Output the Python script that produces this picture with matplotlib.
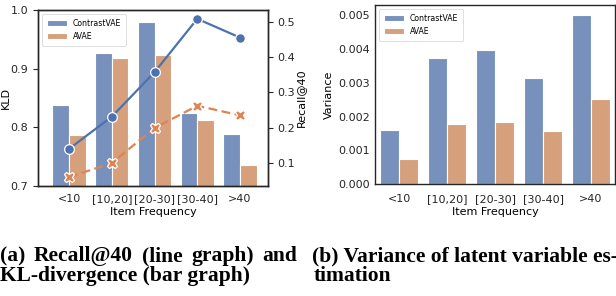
import numpy as np
import matplotlib
matplotlib.use("Agg")
import matplotlib.pyplot as plt

# Data
groups = ["<10", "[10,20]", "[20-30]", "[30-40]", ">40"]
kld_contrast = [0.838, 0.927, 0.980, 0.824, 0.789]
kld_avae = [0.787, 0.919, 0.924, 0.813, 0.736]
recall_contrast = [0.140, 0.231, 0.357, 0.508, 0.455]
recall_avae = [0.060, 0.100, 0.199, 0.262, 0.235]
var_contrast = [0.00160, 0.00372, 0.00398, 0.00314, 0.00500]
var_avae = [0.00075, 0.00178, 0.00185, 0.00157, 0.00253]

# Colours (seaborn "deep", bars muted)
bar_blue = "#7890BC"
bar_orange = "#D6A07D"
line_blue = "#4C72B0"
line_orange = "#DD8452"
spine_col = "#262626"

plt.rcParams["font.family"] = "DejaVu Sans"
plt.rcParams["font.size"] = 8

fig = plt.figure(figsize=(6.16, 2.96), dpi=100)
x = np.arange(len(groups))
w = 0.39


def style_axes(ax, ticks=True):
    for s in ax.spines.values():
        s.set_color(spine_col)
        s.set_linewidth(1.0)
    ax.tick_params(colors=spine_col, labelsize=8, length=3.5 if ticks else 0, width=0.8)


# (a) KLD bars + Recall lines
ax1 = fig.add_axes([0.0617, 0.3716, 0.3734, 0.5946])
ax1.bar(x - w / 2, kld_contrast, w, color=bar_blue, edgecolor="white", linewidth=0.8, label="ContrastVAE")
ax1.bar(x + w / 2, kld_avae, w, color=bar_orange, edgecolor="white", linewidth=0.8, label="AVAE")
ax1.set_ylim(0.7, 1.0)
ax1.set_yticks([0.7, 0.8, 0.9, 1.0])
ax1.set_xlim(-0.725, 4.655)
ax1.set_xticks(x)
ax1.set_xticklabels(groups)
ax1.set_xlabel("Item Frequency", labelpad=2)
ax1.set_ylabel("KLD", labelpad=0)
style_axes(ax1)
ax1.tick_params(axis="x", length=0, pad=6)
leg = ax1.legend(loc="upper left", fontsize=5.6, frameon=True, borderpad=0.6,
                 handlelength=2.6, handleheight=0.9, labelspacing=0.55)
leg.get_frame().set_edgecolor("#d0d0d0")
leg.get_frame().set_linewidth(0.6)

ax2 = ax1.twinx()
ax2.plot(x, recall_contrast, color=line_blue, lw=1.6, marker="o", ms=7,
         mec="white", mew=0.9)
ax2.plot(x, recall_avae, color=line_orange, lw=1.6, ls=(0, (4, 2)), marker="X",
         ms=7.5, mec="white", mew=0.9)
ax2.set_ylim(0.035, 0.533)
ax2.set_yticks([0.1, 0.2, 0.3, 0.4, 0.5])
ax2.set_ylabel("Recall@40", labelpad=0)
style_axes(ax2)

# (b) Variance bars
ax3 = fig.add_axes([0.6088, 0.378, 0.3896, 0.6047])
ax3.bar(x - w / 2, var_contrast, w, color=bar_blue, edgecolor="white", linewidth=0.8, label="ContrastVAE")
ax3.bar(x + w / 2, var_avae, w, color=bar_orange, edgecolor="white", linewidth=0.8, label="AVAE")
ax3.set_ylim(0, 0.0053)
ax3.set_yticks([0, 0.001, 0.002, 0.003, 0.004, 0.005])
ax3.set_yticklabels(["0.000", "0.001", "0.002", "0.003", "0.004", "0.005"])
ax3.set_xlim(-0.5, 4.5)
ax3.set_xticks(x)
ax3.set_xticklabels(groups)
ax3.set_xlabel("Item Frequency", labelpad=2)
ax3.set_ylabel("Variance", labelpad=3)
style_axes(ax3, ticks=False)
ax3.tick_params(axis="x", pad=7)
leg = ax3.legend(loc="upper left", fontsize=5.6, frameon=True, borderpad=0.6,
                 handlelength=2.6, handleheight=0.9, labelspacing=0.55)
leg.get_frame().set_edgecolor("#d0d0d0")
leg.get_frame().set_linewidth(0.6)

# Captions
cap = dict(family="Liberation Serif", weight="bold", fontsize=15.5, color="black",
           va="baseline")
y1 = 1 - 261 / 296
y2 = 1 - 281 / 296

# first line of (a) is justified: spread words evenly from x=0 to x=297 px
words = ["(a)", "Recall@40", "(line", "graph)", "and"]
line_end = 297
renderer = fig.canvas.get_renderer()
texts = [fig.text(0, y1, wd, **cap) for wd in words]
widths = [t.get_window_extent(renderer).width for t in texts]
gap = (line_end - sum(widths)) / (len(words) - 1)
pos = 0.0
for t, wd in zip(texts, widths):
    t.set_x(pos / 616)
    pos += wd + gap

fig.text(0.0, y2, "KL-divergence (bar graph)", **cap)
fig.text(312 / 616, y1, "(b) Variance of latent variable es-", **cap)
fig.text(314 / 616, y2, "timation", **cap)

fig.savefig("out.png", dpi=100)
